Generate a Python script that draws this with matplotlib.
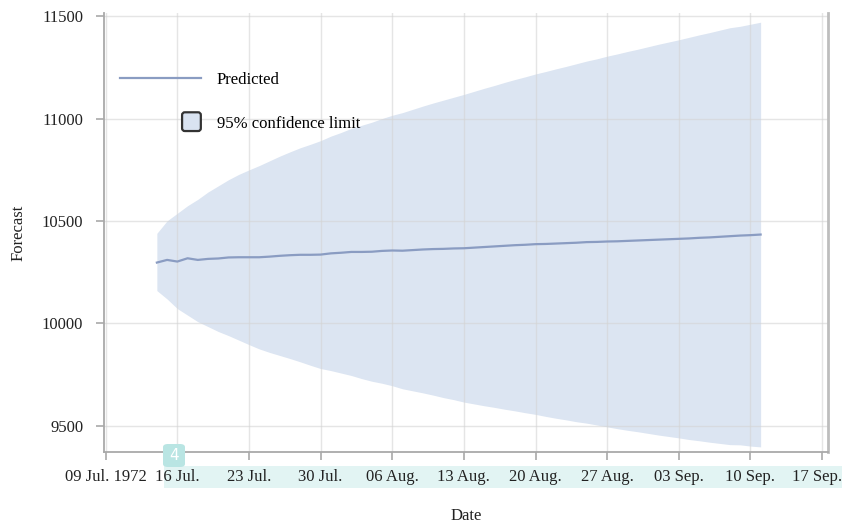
import matplotlib
matplotlib.use("Agg")
import matplotlib.pyplot as plt
import matplotlib.transforms as mtransforms
import pandas as pd
from matplotlib.patches import FancyBboxPatch, Rectangle
from matplotlib.legend_handler import HandlerPatch
from matplotlib.lines import Line2D

plt.rcParams['font.family'] = ['Liberation Serif', 'DejaVu Serif']

# daily forecast, 14 Jul. - 11 Sep. 1972
dates = pd.date_range('1972-07-14', periods=60, freq='D')

predicted = [10297, 10310, 10302, 10318, 10310, 10315, 10317, 10322, 10323, 10323,
             10323, 10326, 10330, 10333, 10335, 10335, 10336, 10342, 10345, 10349,
             10349, 10350, 10354, 10356, 10355, 10358, 10361, 10363, 10364, 10366,
             10367, 10370, 10373, 10376, 10379, 10382, 10384, 10387, 10388, 10390,
             10392, 10394, 10397, 10398, 10400, 10401, 10403, 10405, 10407, 10409,
             10411, 10413, 10415, 10418, 10420, 10423, 10426, 10429, 10431, 10434]

upper = [10440, 10501, 10538, 10575, 10606, 10642, 10672, 10702, 10728, 10750,
         10771, 10794, 10817, 10838, 10858, 10875, 10893, 10915, 10933, 10953,
         10968, 10983, 11001, 11017, 11030, 11046, 11062, 11077, 11091, 11105,
         11119, 11134, 11149, 11163, 11178, 11192, 11205, 11219, 11231, 11244,
         11256, 11269, 11282, 11293, 11306, 11317, 11329, 11340, 11352, 11364,
         11375, 11386, 11398, 11410, 11421, 11433, 11445, 11452, 11462, 11472]

lower = [10160, 10119, 10072, 10040, 10008, 9984, 9960, 9940, 9918, 9896,
         9875, 9858, 9843, 9828, 9812, 9795, 9779, 9769, 9757, 9745,
         9730, 9717, 9707, 9695, 9680, 9670, 9660, 9649, 9637, 9627,
         9615, 9606, 9597, 9589, 9580, 9572, 9563, 9555, 9545, 9536,
         9528, 9519, 9512, 9503, 9494, 9485, 9477, 9470, 9462, 9454,
         9447, 9440, 9432, 9426, 9419, 9413, 9407, 9406, 9400, 9396]

tick_dates = pd.date_range('1972-07-09', periods=11, freq='7D')
tick_labels = ["09 Jul. 1972", "16 Jul.", "23 Jul.", "30 Jul.", "06 Aug.", "13 Aug.",
               "20 Aug.", "27 Aug.", "03 Sep.", "10 Sep.", "17 Sep."]
y_ticks = [9500, 10000, 10500, 11000, 11500]

line_col = '#8a9cc2'
band_col = '#dce5f2'
axis_col = '#a9a9a9'
text_col = '#222222'
fs = 12

fig = plt.figure(figsize=(8.44, 5.25), dpi=100)
ax = fig.add_axes([104 / 844, 1 - 452 / 525, 724 / 844, 439 / 525])

ax.fill_between(dates, lower, upper, color=band_col, linewidth=0, zorder=1)
ax.plot(dates, predicted, color=line_col, linewidth=1.6, zorder=3)

ax.set_xlim(pd.Timestamp('1972-07-08 20:00'), pd.Timestamp('1972-09-17 14:00'))
ax.set_ylim(9371, 11517)

ax.set_xticks(tick_dates)
ax.set_xticklabels(tick_labels)
ax.set_yticks(y_ticks)
ax.set_yticklabels([str(v) for v in y_ticks])

ax.grid(True, color='#d4d4d4', alpha=0.6, linewidth=1.0)
for gl in ax.get_xgridlines() + ax.get_ygridlines():
    gl.set_zorder(2)

ax.spines['top'].set_visible(False)
for side in ['left', 'bottom']:
    ax.spines[side].set_color(axis_col)
    ax.spines[side].set_linewidth(1.3)
ax.spines['right'].set_color('#bdbdbd')
ax.spines['right'].set_linewidth(2.0)

ax.tick_params(axis='both', colors=axis_col, length=6, width=1.2, labelsize=fs,
               labelcolor=text_col)
ax.tick_params(axis='y', pad=9)
ax.tick_params(axis='x', pad=6)

# keep the last date label inside the figure
last = ax.get_xticklabels()[-1]
last.set_transform(last.get_transform() +
                   mtransforms.ScaledTranslation(-5 / 100, 0, fig.dpi_scale_trans))

ax.set_xlabel('Date', fontsize=fs, color=text_col, labelpad=17)
ax.set_ylabel('Forecast', fontsize=fs, color=text_col, labelpad=11)


# legend: line handle full width, square handle at the right end
def square_patch(legend, orig_handle, xdescent, ydescent, width, height, fontsize):
    s = 13.5
    return FancyBboxPatch((width - s - xdescent, height / 2 - s / 2 - ydescent), s, s,
                          boxstyle='round,pad=0,rounding_size=2')


h_line = Line2D([], [], color=line_col, linewidth=1.6)
h_band = Rectangle((0, 0), 1, 1, facecolor='#d9e3f1', edgecolor='#333333', linewidth=1.6)
leg = ax.legend([h_line, h_band], ['Predicted', '95% confidence limit'],
                handler_map={h_band: HandlerPatch(patch_func=square_patch)},
                loc='upper left', bbox_to_anchor=(120 / 844, 1 - 72 / 525),
                bbox_transform=fig.transFigure, frameon=False, fontsize=fs,
                handlelength=4.85, handletextpad=0.95, labelspacing=1.65,
                borderpad=0, borderaxespad=0)
leg.set_zorder(5)

# highlight strip behind the tick labels and the numbered badge
fig.patches.append(Rectangle((164 / 844, 1 - 488 / 525), 678 / 844, 22 / 525,
                             transform=fig.transFigure, facecolor='#e2f4f3',
                             edgecolor='none', zorder=-1))
badge = FancyBboxPatch((163 / 844, 1 - 467 / 525), 22 / 844, 23 / 525,
                       boxstyle='round,pad=0,rounding_size=0.006',
                       transform=fig.transFigure, facecolor='#b9e5e3',
                       edgecolor='none', zorder=6)
fig.patches.append(badge)
fig.text(174 / 844, 1 - 455 / 525, '4', color='white', fontsize=11,
         family='DejaVu Sans', ha='center', va='center', zorder=7)

fig.savefig('out.png', dpi=100, facecolor='white')
